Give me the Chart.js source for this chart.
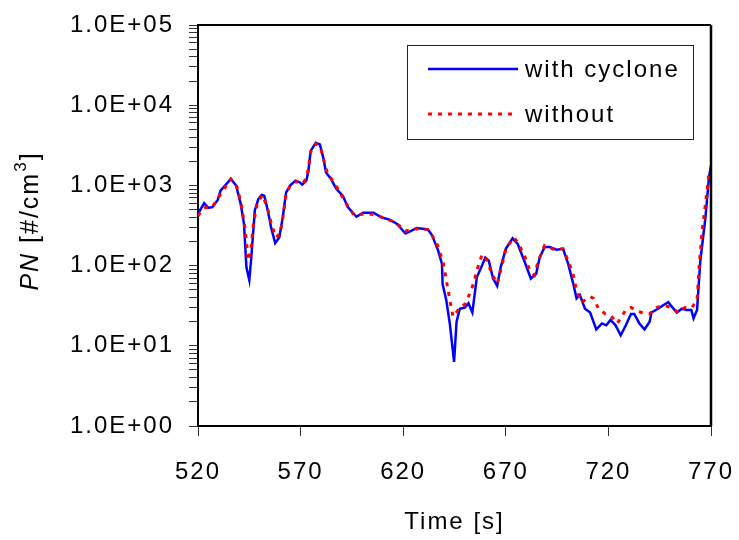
<!DOCTYPE html>
<html>
<head>
<meta charset="utf-8">
<script src="https://cdn.jsdelivr.net/npm/chart.js@4"></script>
<style>
  html, body { margin: 0; padding: 0; background: #fff; }
  #wrap { width: 739px; height: 540px; }
</style>
</head>
<body>
<div id="wrap"><canvas id="c" width="739" height="540"></canvas></div>
<script>
// ---- data ----
const timeCyclone = [520,523,525,527,529.6,531,536,538.6,540.8,542.4,543.6,545,546,547.7,549.4,551,552.3,554,555.6,557.6,559.6,561.3,562.9,565,567.5,569.5,570.8,572.8,573.8,574.9,577.4,579.4,581,582.4,584.8,587.3,590.6,593,597.2,600.5,605.5,609.6,613.7,617,621.1,623.6,626.6,632,634,637,638.9,639.2,641,642.7,644.8,646,647.6,650.1,651.8,653.7,655.9,658,660,661.7,663.8,665.8,667.5,670,673.3,675.8,679,682.2,684.8,686.5,688.9,691.4,694.7,697.9,700.4,702.9,704.5,706.1,708.6,711.1,714.1,716.9,719,721,723.5,726,728.5,731,732.6,735.1,737.6,740.1,741,744.2,746.7,749.2,750.8,753.3,755.8,758.2,760.4,761.5,763.2,764.8,767.3,769,770];
const pnCyclone = [442,600,525,535,659,861,1202,995,589,331,95,66,129,490,676,759,741,490,302,191,224,398,813,1000,1148,1096,1023,1148,1514,2692,3388,3236,2239,1445,1202,912,741,537,407,457,457,398,372,331,251,269,295,282,240,155,105,59,37,19,6.3,20,29,30,34,26,72,95,126,115,69,56,95,162,219,186,115,69,79,126,170,170,158,162,105,59,39,43,29,26,16,19,18,21,18,13.5,18,25,25,19,16,20,26,29,32,35,31,26,29,28,28,22,28,115,398,1259,1778];

const timeWithout = [520,523,527,530,536,539,541,543,544.5,546,547,549,551.5,554,556,558,560,561.5,563,565,568,571,573,575,577.5,579.5,581.5,583,586,589,592,596,600,605,610,614,618,621,626,632,636,639.3,641.8,643,644.3,646.8,650,651.8,654.2,656,658.3,659.6,661.5,663.2,665.8,668.3,670,674,676,679,681.4,684,685.6,688.9,693.8,697.9,700.4,702.9,704.5,707,711.1,712.7,715.2,718.5,721,724.3,728.5,731,736,740,743.5,746.7,750.8,754.2,757.4,760.7,763.2,764.3,765.7,767.3,769,770];
const pnWithout = [417,525,537,708,1202,955,603,282,115,178,331,617,759,501,316,224,251,417,794,1000,1122,1047,1259,2630,3311,3090,1995,1413,1122,832,603,427,437,437,398,363,316,269,288,282,200,115,51,34,23,28,33,41,59,89,135,135,105,79,59,105,162,224,191,135,91,76,110,178,158,162,115,76,49,35,41,39,29,25,24,19,28,30,26,25,30,32,30,26,30,30,37,105,275,589,1380,1585];

const xTickValues = [520,570,620,670,720,770];
const yTickLabels = ['1.0E+00','1.0E+01','1.0E+02','1.0E+03','1.0E+04','1.0E+05'];
const seriesNames = ['with cyclone', 'without'];

const FONT = "'Liberation Sans', Arial, sans-serif";
Chart.defaults.font.family = FONT;
Chart.defaults.font.size = 24;
Chart.defaults.color = '#000';

function toPts(xs, ys) { return xs.map((x, i) => ({x: x, y: ys[i]})); }

const spacing = {
  id: 'spacing',
  beforeLayout(chart) { chart.ctx.letterSpacing = '2px'; },
  beforeDraw(chart) { chart.ctx.letterSpacing = '2px'; }
};

const frame = {
  id: 'frame',
  afterDatasetsDraw(chart) {
    const {ctx, chartArea: a} = chart;
    ctx.save();
    ctx.strokeStyle = '#000';
    ctx.lineWidth = 2;
    ctx.beginPath();
    ctx.moveTo(a.left, a.top); ctx.lineTo(a.right, a.top);
    ctx.stroke();
    ctx.lineWidth = 2.5;
    ctx.beginPath();
    ctx.moveTo(a.right, a.top); ctx.lineTo(a.right, a.bottom);
    ctx.stroke();
    ctx.restore();
  }
};

const yTitle = {
  id: 'yTitle',
  afterDraw(chart) {
    const ctx = chart.ctx;
    ctx.save();
    ctx.letterSpacing = '2px';
    ctx.fillStyle = '#000';
    ctx.textBaseline = 'alphabetic';
    ctx.textAlign = 'left';
    const parts = [
      {t: 'PN', f: 'italic 25px ' + FONT, dy: 0},
      {t: ' [#/cm', f: '25px ' + FONT, dy: 0},
      {t: '3', f: '17px ' + FONT, dy: -12},
      {t: ']', f: '25px ' + FONT, dy: 0}
    ];
    let total = 0;
    parts.forEach(p => { ctx.font = p.f; p.w = ctx.measureText(p.t).width; total += p.w; });
    ctx.translate(38, 221);
    ctx.rotate(-Math.PI / 2);
    let x = -total / 2;
    parts.forEach(p => { ctx.font = p.f; ctx.fillText(p.t, x, p.dy); x += p.w; });
    ctx.restore();
  }
};

const legendBox = {
  id: 'legendBox',
  afterDraw(chart) {
    const ctx = chart.ctx;
    const ds = chart.data.datasets;
    ctx.save();
    ctx.strokeStyle = '#222';
    ctx.lineWidth = 1;
    ctx.strokeRect(407.5, 45.5, 286, 94);
    const rows = [
      {d: ds[1], y: 69},
      {d: ds[0], y: 114}
    ];
    rows.forEach(r => {
      ctx.save();
      ctx.strokeStyle = r.d.borderColor;
      ctx.lineWidth = r.d.borderWidth;
      ctx.setLineDash(r.d.borderDash || []);
      ctx.beginPath();
      ctx.moveTo(428, r.y); ctx.lineTo(518, r.y);
      ctx.stroke();
      ctx.restore();
      ctx.letterSpacing = '2px';
      ctx.fillStyle = '#000';
      ctx.font = '24px ' + FONT;
      ctx.textBaseline = 'middle';
      ctx.textAlign = 'left';
      ctx.fillText(r.d.label, 525, r.y + 1);
    });
    ctx.restore();
  }
};

new Chart(document.getElementById('c'), {
  type: 'line',
  data: {
    datasets: [
      {
        label: seriesNames[1],
        data: toPts(timeWithout, pnWithout),
        borderColor: '#ff0000',
        borderWidth: 3,
        borderDash: [4, 6],
        pointRadius: 0,
        tension: 0,
        fill: false
      },
      {
        label: seriesNames[0],
        data: toPts(timeCyclone, pnCyclone),
        borderColor: '#0000ff',
        borderWidth: 2.5,
        pointRadius: 0,
        tension: 0,
        fill: false
      }
    ]
  },
  options: {
    responsive: false,
    animation: false,
    devicePixelRatio: 1,
    layout: { padding: { left: 0, top: 25, right: 28, bottom: 0 } },
    plugins: { legend: { display: false }, tooltip: { enabled: false } },
    scales: {
      x: {
        type: 'linear',
        min: xTickValues[0],
        max: xTickValues[xTickValues.length - 1],
        afterBuildTicks(scale) { scale.ticks = xTickValues.map(v => ({value: v})); },
        afterFit(scale) { scale.height = 540 - 426; scale.paddingLeft = 0; scale.paddingRight = 0; },
        ticks: { padding: 22, autoSkip: false, maxRotation: 0, color: '#000', font: {size: 24} },
        grid: { drawOnChartArea: false, drawTicks: true, tickLength: 10, tickColor: '#333', tickWidth: 1 },
        border: { display: true, color: '#000', width: 2 },
        title: { display: true, text: 'Time [s]', color: '#000', font: {size: 24}, padding: {top: 0, bottom: 3} }
      },
      y: {
        type: 'logarithmic',
        min: 1,
        max: 100000,
        afterBuildTicks(scale) {
          scale.ticks = scale.ticks.filter(t => {
            const m = t.value / Math.pow(10, Math.floor(Math.log10(t.value) + 1e-9));
            return Math.abs(m - Math.round(m)) < 1e-6;
          });
        },
        afterFit(scale) { scale.width = 198; scale.paddingTop = 0; scale.paddingBottom = 0; },
        ticks: {
          padding: 15,
          autoSkip: false,
          color: '#000',
          font: {size: 24},
          callback(v) {
            const e = Math.log10(v);
            const r = Math.round(e);
            if (Math.abs(e - r) < 1e-9 && r >= 0 && r < yTickLabels.length) return yTickLabels[r];
            return '';
          }
        },
        grid: { drawOnChartArea: false, drawTicks: true, tickLength: 9, tickColor: '#333', tickWidth: 1 },
        border: { display: true, color: '#000', width: 2 }
      }
    }
  },
  plugins: [spacing, frame, yTitle, legendBox]
});
</script>
</body>
</html>
